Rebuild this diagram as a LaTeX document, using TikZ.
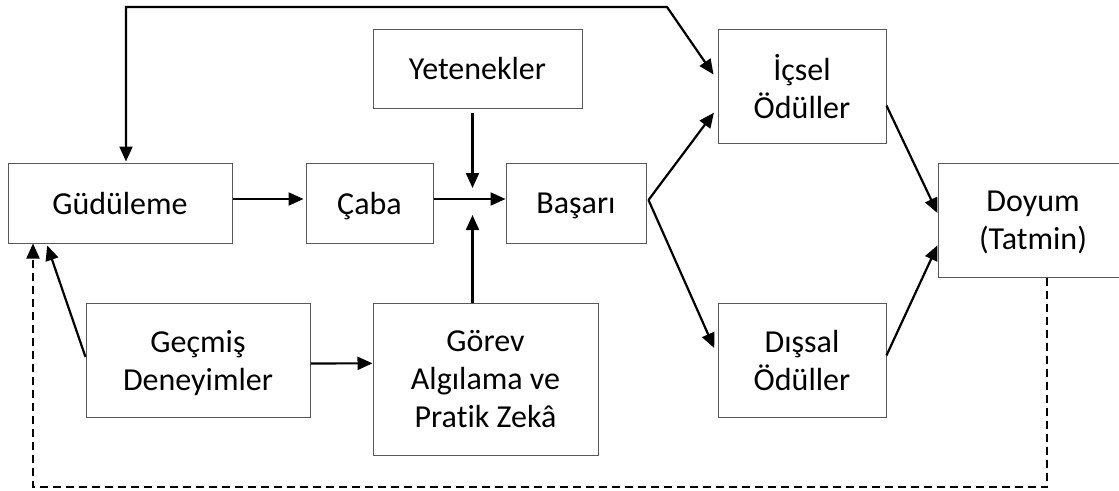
\documentclass[tikz,border=0pt]{standalone}
\usepackage{fontspec}
\setmainfont{Carlito}[Ligatures=NoCommon]
\usetikzlibrary{arrows.meta,calc}
\begin{document}
\begin{tikzpicture}[x=1pt,y=-1pt,
  box/.style={draw=black!65,line width=1pt,fill=white,rectangle,align=center,inner sep=0pt,
    text depth=0pt,font=\fontsize{32}{38}\selectfont},
  conn/.style={line width=2.2pt,-{Triangle[length=15pt,width=13pt]}},
  dconn/.style={conn,dash pattern=on 8pt off 5pt}
]
\useasboundingbox (0,0) rectangle (1119,490);
% boxes
\node[box,minimum width=224pt,minimum height=80pt] (gud) at (120,203) {Güdüleme};
\node[box,minimum width=127pt,minimum height=80pt] (caba) at (369.5,203) {Çaba};
\node[box,minimum width=209pt,minimum height=79pt] (yet) at (477.5,68.5) {Yetenekler};
\node[box,minimum width=140pt,minimum height=80pt] (bas) at (576,203) {Başarı};
\node[box,minimum width=168pt,minimum height=114pt] (icsel) at (802,86) {İçsel\\Ödüller};
\node[box,minimum width=190pt,minimum height=114pt] (doyum) at (1033,220) {Doyum\\(Tatmin)};
\node[box,minimum width=224pt,minimum height=114pt] (gecmis) at (198,360) {Geçmiş\\Deneyimler};
\node[box,minimum width=225pt,minimum height=152pt] (gorev) at (485.5,379) {Görev\\Algılama ve\\Pratik Zekâ};
\node[box,minimum width=168pt,minimum height=114pt] (dissal) at (802,360) {Dışsal\\Ödüller};
% helper coordinates
\coordinate (j) at (472.5,199);
\coordinate (tl) at (126,7);
\coordinate (tr) at (667,7);
\coordinate (dl) at (33,487);
\coordinate (dr) at (1047,487);
% connectors
\draw[conn,{Triangle[length=15pt,width=13pt]}-{Triangle[length=15pt,width=13pt]},shorten >=7pt,shorten <=1pt]
  (gud.north -| tl) -- (tl) -- (tr) -- ($(icsel.north west)!0.45!(icsel.south west)$);
\draw[conn,shorten >=2pt] (gud.east |- j) -- (caba.west |- j);
\draw[conn] (caba.east |- j) -- (bas.west |- j);
\draw[conn,shorten <=4pt,shorten >=11pt] (yet.south -| j) -- (j);
\draw[conn,shorten >=16pt] (gorev.north -| j) -- (j);
\draw[conn,shorten >=6pt] ($(bas.east)+(2,-3)$) -- ($(icsel.north west)!0.69!(icsel.south west)$);
\draw[conn,shorten >=8pt] ($(bas.east)+(2,-3)$) -- ($(dissal.north west)!0.46!(dissal.south west)$);
\draw[conn] ($(icsel.north east)!0.67!(icsel.south east)$) -- ($(doyum.north west)!0.44!(doyum.south west)$);
\draw[conn] ($(dissal.north east)!0.46!(dissal.south east)$) -- ($(doyum.north west)!0.72!(doyum.south west)$);
\draw[conn] ($(gecmis.north east)!0.53!(gecmis.south east)$) -- ($(gorev.north west)!0.53*114/152!(gorev.south west)$);
\draw[conn,shorten >=2pt] ($(gecmis.west)+(0,-3)$) -- ($(gud.south west)+(39,0)$);
\draw[dconn] (doyum.south -| dr) -- (dr) -- (dl) -- (gud.south -| dl);
\end{tikzpicture}
\end{document}
